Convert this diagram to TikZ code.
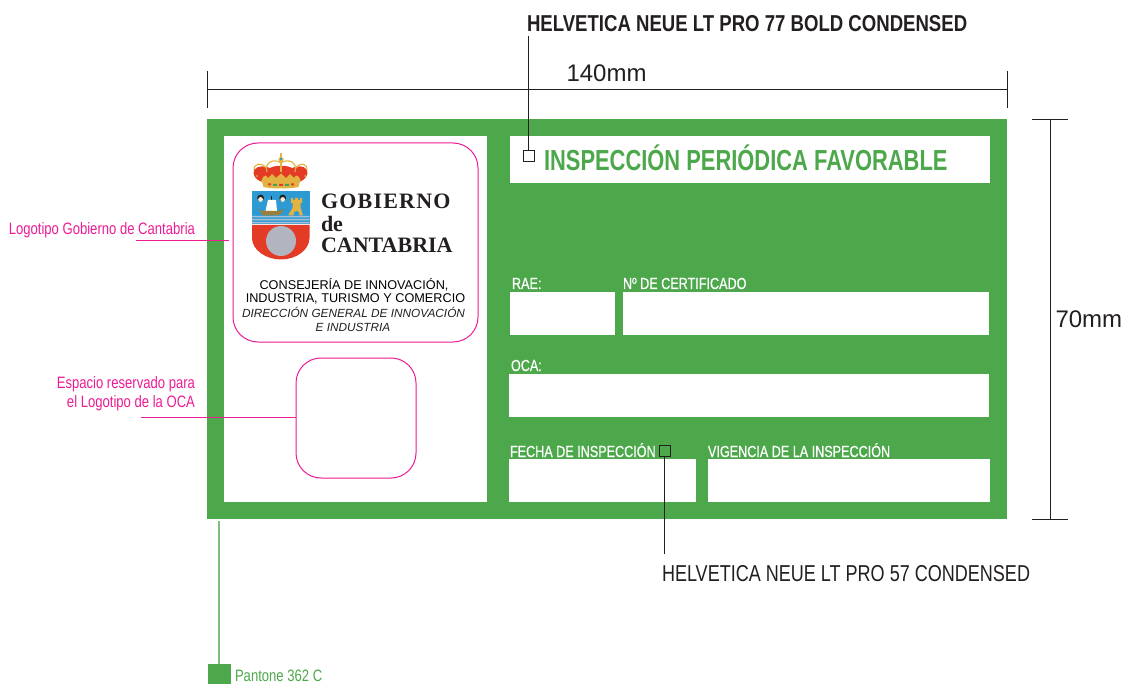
\documentclass[tikz,border=0pt]{standalone}
\usepackage{fontspec}
\setmainfont{Liberation Sans}
\newfontfamily\condtitle[FakeStretch=0.755]{Liberation Sans}
\newfontfamily\condhead[FakeStretch=0.808]{Liberation Sans}
\newfontfamily\condheadr[FakeStretch=0.784]{Liberation Sans}
\newfontfamily\condlbl[FakeStretch=0.788,FakeBold=0.5]{Liberation Sans}
\newfontfamily\condpink[FakeStretch=0.793]{Liberation Sans}
\newfontfamily\logoserif{Liberation Serif}
\definecolor{pgreen}{HTML}{4CA84B}
\definecolor{plight}{HTML}{7CC07B}
\definecolor{ppink}{HTML}{EC1C94}
\definecolor{ink}{HTML}{231F20}
\definecolor{sred}{HTML}{E33B25}
\definecolor{sblue}{HTML}{2D9AD3}
\definecolor{sgold}{HTML}{E3B341}
\definecolor{sgrey}{HTML}{B2B4BF}
\definecolor{swave}{HTML}{A6BFD6}
\definecolor{shull}{HTML}{9A7F3A}
\definecolor{sjewel}{HTML}{3FA45B}
\tikzset{
  txt/.style={inner sep=0pt,outer sep=0pt,anchor=base west,text=ink},
  txtr/.style={inner sep=0pt,outer sep=0pt,anchor=base east,text=ppink},
  wbox/.style={fill=white,draw=none,inner sep=0pt,outer sep=0pt},
  lbl/.style={txt,text=white,font=\condlbl\fontsize{16}{18}\selectfont},
  pinkbox/.style={draw=ppink,fill=white,line width=1pt,rounded corners=25pt,inner sep=0pt,outer sep=0pt},
  marker/.style={draw=ink,line width=1pt,inner sep=0pt,outer sep=0pt,minimum width=11pt,minimum height=11pt},
  dim/.style={draw=ink,line width=0.9pt},
  pinkline/.style={draw=ppink,line width=1pt},
  pinktxt/.style={txtr,font=\condpink\fontsize{16.5}{18}\selectfont},
  logotxt/.style={txt,font=\logoserif\bfseries\fontsize{22}{24}\selectfont},
  sublogo/.style={inner sep=0pt,text=black,anchor=base,font=\fontsize{12.7}{14}\selectfont},
  sublogoi/.style={inner sep=0pt,text=ink,anchor=base,font=\itshape\fontsize{11.8}{14}\selectfont},
}
\begin{document}
\begin{tikzpicture}[x=1pt,y=-1pt]
\useasboundingbox (0,0) rectangle (1126,684);
% card
\node[fill=pgreen,inner sep=0pt,outer sep=0pt,minimum width=800pt,minimum height=400pt] (card) at (607,319) {};
\node[wbox,minimum width=263pt,minimum height=366pt] (left) at (355.5,319) {};
\node[wbox,minimum width=480pt,minimum height=47pt] (titlebox) at (750,159.5) {};
\node[wbox,minimum width=105pt,minimum height=43pt] (rae) at (562.5,313.5) {};
\node[wbox,minimum width=366pt,minimum height=43pt] (cert) at (806,313.5) {};
\node[wbox,minimum width=480pt,minimum height=43pt] (oca) at (749,395.5) {};
\node[wbox,minimum width=187pt,minimum height=43pt] (fecha) at (602.5,480.5) {};
\node[wbox,minimum width=282pt,minimum height=43pt] (vig) at (849,480.5) {};
% pink rounded boxes
\node[pinkbox,minimum width=245pt,minimum height=199pt] (logobox) at (355.5,242.5) {};
\node[pinkbox,minimum width=120pt,minimum height=120pt] (ocabox) at (356,418) {};
% crown
\fill[sred] (262,182) .. controls (256,180) and (252,175) .. (254,170) .. controls (258,165) and (265,166) .. (270,168) .. controls (275,165) and (287,165) .. (292,168) .. controls (297,166) and (304,165) .. (307,170) .. controls (309,175) and (305,180) .. (299,182) -- cycle;
\draw[sgold,line width=1.1pt] (254,170) .. controls (254,163) and (262,162) .. (266,168);
\draw[sgold,line width=1.1pt] (307,170) .. controls (307,163) and (300,162) .. (296,168);
\draw[sgold,line width=1.1pt] (267,172) .. controls (264,162) and (274,158) .. (281,163) .. controls (288,158) and (298,162) .. (295,172);
\fill[sgold] (279.6,153) rectangle (282.4,158);
\fill[sgold] (281,159.5) circle (2.6);
\fill[sblue] (281,159) circle (1.4);
\draw[sgold,line width=1.2pt] (281,162) -- (281,172);
\fill[sgold] (261,182) -- (263,177) -- (266,175.5) -- (268,178) -- (272,174) -- (276,178) -- (281,173.5) -- (286,178) -- (290,174) -- (294,178) -- (296,175.5) -- (299,177) -- (301,182) -- cycle;
\fill[sgold] (257,176) circle (1) (305,176) circle (1);
\fill[sgold] (262,181.5) -- (300,181.5) -- (298.5,187) .. controls (290,189) and (272,189) .. (263.5,187) -- cycle;
\fill[sred] (268,183.5) rectangle (271,185.5) (291,183.5) rectangle (294,185.5) (279,184) rectangle (283,186);
\fill[sjewel] (273,184) rectangle (277,186) (285,184) rectangle (289,186);
% shield
\fill[sred] (252,225) -- (309.5,225) -- (309.5,238) .. controls (309.5,250) and (296,259.5) .. (281,259.5) .. controls (266,259.5) and (252,250) .. (252,238) -- cycle;
\fill[sblue] (252,191) rectangle (309.5,224);
\fill[swave] (252,216) rectangle (309.5,217.3) (252,219) rectangle (309.5,220.3) (252,222) rectangle (309.5,223.3);
\fill[sgrey] (281,241) circle (15);
% heads
\fill[ink] (260.6,198) circle (3.4) (282.7,198) circle (3.4);
\fill[white!75!sgold] (260.6,199.5) circle (2.4) (282.7,199.5) circle (2.4);
% ship
\draw[ink,line width=0.6pt] (271.5,196) -- (271.5,212);
\fill[white] (268,200) -- (276,200) -- (277,211) -- (265.5,211) -- cycle;
\fill[shull] (258,208.5) -- (262,211) -- (279,211) -- (284,208.5) -- (280,215) -- (263,215.5) -- cycle;
% tower
\fill[sgold] (291,198) -- (293,198) -- (293,200) -- (295,200) -- (295,198) -- (298,198) -- (298,200) -- (300,200) -- (300,198) -- (302,198) -- (302,203) -- (300.5,203) -- (300.5,208) -- (303,215.5) -- (299.5,215.5) .. controls (299.5,209) and (293.5,209) .. (293.5,215.5) -- (288,215.5) -- (292.5,208) -- (292.5,203) -- (291,203) -- cycle;
% logo text
\node[logotxt,font=\logoserif\bfseries\fontsize{22}{24}\selectfont\addfontfeature{LetterSpace=5.5}] (gob) at (321,209) {GOBIERNO};
\node[logotxt] (de) at (321,231.5) {de};
\node[logotxt] (cant) at (321,253) {CANTABRIA};
\node[sublogo] (con1) at (354,290) {CONSEJERÍA DE INNOVACIÓN,};
\node[sublogo] (con2) at (355.5,303) {INDUSTRIA, TURISMO Y COMERCIO};
\node[sublogoi] (dir1) at (353.5,317.7) {DIRECCIÓN GENERAL DE INNOVACIÓN};
\node[sublogoi] (dir2) at (353,331.7) {E INDUSTRIA};
% card text
\node[txt,text=pgreen,font=\condtitle\bfseries\fontsize{29}{31}\selectfont] (title) at (544,171) {INSPECCIÓN PERIÓDICA FAVORABLE};
\node[lbl] (lrae) at (512,289) {RAE:};
\node[lbl] (lcert) at (623,289) {Nº DE CERTIFICADO};
\node[lbl] (loca) at (511,371) {OCA:};
\node[lbl] (lfecha) at (510,457) {FECHA DE INSPECCIÓN};
\node[lbl] (lvig) at (708,457) {VIGENCIA DE LA INSPECCIÓN};
% markers and leaders
\node[marker] (m77) at (528.5,156.5) {};
\node[marker,fill=none] (m57) at (664.5,450.5) {};
\node[txt,font=\condhead\bfseries\fontsize{23}{25}\selectfont] (h77) at (527,31.5) {HELVETICA NEUE LT PRO 77 BOLD CONDENSED};
\node[txt,font=\condheadr\fontsize{23}{25}\selectfont] (h57) at (662,581) {HELVETICA NEUE LT PRO 57 CONDENSED};
\coordinate (l77) at (528.5,36);
\coordinate (l57) at (664.5,554);
\draw[dim] (l77) -- (m77.north);
\draw[dim] (m57.south) -- (l57);
% dimensions
\node[txt,font=\fontsize{24}{26}\selectfont] (d140) at (566.5,82) {140mm};
\node[txt,font=\fontsize{24}{26}\selectfont] (d70) at (1055.5,327) {70mm};
\coordinate (hl) at (207,89.5); \coordinate (hr) at (1007,89.5);
\coordinate (hlt) at (207,71); \coordinate (hlb) at (207,108);
\coordinate (hrt) at (1007,71); \coordinate (hrb) at (1007,108);
\draw[dim] (hl) -- (hr);
\draw[dim] (hlt) -- (hlb);
\draw[dim] (hrt) -- (hrb);
\coordinate (vt) at (1050,119); \coordinate (vb) at (1050,519);
\coordinate (vtl) at (1032,119); \coordinate (vtr) at (1068,119);
\coordinate (vbl) at (1032,519); \coordinate (vbr) at (1068,519);
\draw[dim] (vt) -- (vb);
\draw[dim] (vtl) -- (vtr);
\draw[dim] (vbl) -- (vbr);
% pink callouts
\node[pinktxt] (plogo) at (195,235) {Logotipo Gobierno de Cantabria};
\node[pinktxt] (pesp1) at (195,388) {Espacio reservado para};
\node[pinktxt] (pesp2) at (195,407) {el Logotipo de la OCA};
\coordinate (c1a) at (136,240.5); \coordinate (c1b) at (229,240.5);
\coordinate (c2a) at (141,417.5);
\draw[pinkline] (c1a) -- (c1b);
\draw[pinkline] (c2a) -- (ocabox.west |- c2a);
% swatch
\node[fill=pgreen,inner sep=0pt,outer sep=0pt,minimum width=23pt,minimum height=20pt] (swatch) at (219.5,674) {};
\coordinate (sw) at (219,521);
\draw[plight,line width=1.2pt] (sw) -- (swatch.north -| sw);
\node[txt,text=pgreen,font=\condpink\fontsize{16.5}{18}\selectfont] (pant) at (235,681) {Pantone 362 C};
\end{tikzpicture}
\end{document}
